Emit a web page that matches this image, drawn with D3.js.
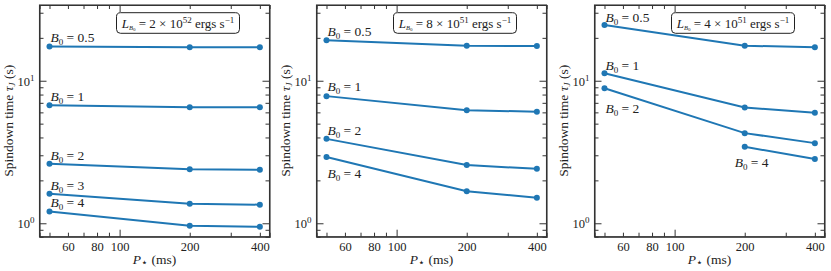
<!DOCTYPE html>
<html>
<head>
<meta charset="utf-8">
<script src="https://cdn.jsdelivr.net/npm/d3@7"></script>
<style>
    body { margin: 0; background: #fff; }
    svg { display: block; }
    text { font-family: "Liberation Serif", "DejaVu Serif", serif; fill: #222; }
</style>
</head>
<body>
<div id="chart"></div>
<script>
// periods P* (ms) at which spindown times were computed
const periods = [50, 200, 400];

// panel luminosities L_B0 (mantissa, exponent)
const lumMantissa = ["2", "8", "4"];
const lumExponent = ["52", "51", "51"];

// field strengths per panel
const fieldsA = ["0.5", "1", "2", "3", "4"];
const fieldsB = ["0.5", "1", "2", "4"];
const fieldsC = ["0.5", "1", "2", "4"];

// spindown times tau_J (s), one row per field, one column per period
const tauA = [
    [17.4, 17.2, 17.2],
    [6.74, 6.53, 6.53],
    [2.62, 2.39, 2.37],
    [1.61, 1.37, 1.35],
    [1.21, 0.96, 0.946]
];
const tauB = [
    [19.2, 17.6, 17.5],
    [7.8, 6.22, 6.06],
    [3.91, 2.56, 2.41],
    [2.92, 1.68, 1.51]
];
const tauC = [
    [24.6, 17.6, 17.2],
    [11.3, 6.5, 5.96],
    [8.85, 4.29, 3.65],
    [null, 3.44, 2.82]
];

// axis ticks
const xMinorTicks = [50, 60, 70, 80, 90, 200, 300, 400];
const xMajorTicks = [100];
const xLabelTicks = [60, 80, 100, 200, 400];
const yMajorTicks = [1, 10];
const yMinorTicks = [0.9, 2, 3, 4, 5, 6, 7, 8, 9, 20, 30];

// label placement: [index of period to anchor on, dx, dy]
const labelPosA = [[0, 1, -4], [0, 1, -4], [0, 1, -4], [0, 1, -4], [0, 1, -4]];
const labelPosB = [[0, 1, -4], [0, 1, -5], [0, 1, -4], [0, 1, 21]];
const labelPosC = [[0, 1, -3], [0, 1, -3], [0, 1, 25], [1, -10, 20]];

const panels = [
    {fields: fieldsA, tau: tauA, labels: labelPosA},
    {fields: fieldsB, tau: tauB, labels: labelPosB},
    {fields: fieldsC, tau: tauC, labels: labelPosC}
];

const width = 831, height = 271;
const plotTop = 5, plotH = 231.7, plotW = 230;
const panelLefts = [39.5, 316.5, 594.5];
const blue = "#1f77b4";

const svg = d3.select("#chart").append("svg")
    .attr("width", width)
    .attr("height", height);

const x = d3.scaleLog().domain([45.3, 440]).range([0, plotW]);
const y = d3.scaleLog().domain([0.805, 34]).range([plotH, 0]);

function bLabel(sel, val) {
    sel.append("tspan").attr("font-style", "italic").text("B");
    sel.append("tspan").attr("font-size", 9).attr("dy", 3).text("0");
    sel.append("tspan").attr("dy", -3).text(" = " + val);
}

panels.forEach(function(p, pi) {
    let g = svg.append("g")
        .attr("transform", "translate(" + panelLefts[pi] + "," + plotTop + ")");

    // x axes (ticks pointing inwards)
    let xb = g.append("g").attr("class", "x-axis")
        .attr("transform", "translate(0," + plotH + ")")
        .call(d3.axisBottom(x).tickValues(xMinorTicks.concat(xMajorTicks))
            .tickSize(-4).tickPadding(5)
            .tickFormat(d => xLabelTicks.includes(d) ? d : ""));
    xb.selectAll(".tick line").filter(d => xMajorTicks.includes(d)).attr("y2", -7);

    let xt = g.append("g").attr("class", "x-axis-top")
        .call(d3.axisTop(x).tickValues(xMinorTicks.concat(xMajorTicks))
            .tickSize(-4).tickFormat(""));
    xt.selectAll(".tick line").filter(d => xMajorTicks.includes(d)).attr("y2", 7);

    // y axes
    let yl = g.append("g").attr("class", "y-axis")
        .call(d3.axisLeft(y).tickValues(yMinorTicks.concat(yMajorTicks))
            .tickSize(-4).tickPadding(4).tickFormat(""));
    yl.selectAll(".tick line").filter(d => yMajorTicks.includes(d)).attr("x2", 7);
    yl.selectAll(".tick").filter(d => yMajorTicks.includes(d))
        .append("text")
        .attr("x", -5).attr("dy", "0.35em")
        .attr("text-anchor", "end")
        .attr("font-size", 12.5)
        .each(function(d) {
            let t = d3.select(this);
            t.append("tspan").text("10");
            t.append("tspan").attr("font-size", 9).attr("dy", -5).text(Math.round(Math.log10(d)));
        });

    let yr = g.append("g").attr("class", "y-axis-right")
        .attr("transform", "translate(" + plotW + ",0)")
        .call(d3.axisRight(y).tickValues(yMinorTicks.concat(yMajorTicks))
            .tickSize(-4).tickFormat(""));
    yr.selectAll(".tick line").filter(d => yMajorTicks.includes(d)).attr("x2", -7);

    g.selectAll(".domain").attr("stroke", "#333").attr("stroke-width", 1.1);
    g.selectAll(".tick line").attr("stroke", "#333");
    g.selectAll(".x-axis .tick text").attr("font-size", 12.5).attr("fill", "#222")
        .attr("font-family", "Liberation Serif, serif");

    // frame
    g.append("rect")
        .attr("width", plotW).attr("height", plotH)
        .attr("fill", "none").attr("stroke", "#333").attr("stroke-width", 1.1);

    // lines and markers
    let line = d3.line()
        .defined(d => d[1] != null)
        .x(d => x(d[0]))
        .y(d => y(d[1]));

    p.tau.forEach(function(row, ri) {
        let pts = periods.map((P, i) => [P, row[i]]);
        g.append("path")
            .datum(pts)
            .attr("d", line)
            .attr("fill", "none")
            .attr("stroke", blue)
            .attr("stroke-width", 2);
        g.selectAll(".dot-" + ri)
            .data(pts.filter(d => d[1] != null))
            .enter().append("circle")
            .attr("cx", d => x(d[0]))
            .attr("cy", d => y(d[1]))
            .attr("r", 3)
            .attr("fill", blue);

        let lp = p.labels[ri];
        let ax = periods[lp[0]], ay = row[lp[0]];
        g.append("text")
            .attr("x", x(ax) + lp[1])
            .attr("y", y(ay) + lp[2])
            .attr("font-size", 13.5)
            .call(bLabel, p.fields[ri]);
    });

    // luminosity box
    g.append("rect")
        .attr("x", 138.5 - 61.5).attr("y", 7.7)
        .attr("width", 123).attr("height", 20.6)
        .attr("rx", 4)
        .attr("fill", "#fff")
        .attr("stroke", "#222").attr("stroke-width", 1);
    let lt = g.append("text")
        .attr("x", 138.5).attr("y", 22.5)
        .attr("text-anchor", "middle")
        .attr("font-size", 13);
    lt.append("tspan").attr("font-style", "italic").text("L");
    lt.append("tspan").attr("font-size", 6.5).attr("font-style", "italic").attr("dy", 2.5).text("B");
    lt.append("tspan").attr("font-size", 5).attr("dy", 1).text("0");
    lt.append("tspan").attr("dy", -3.5).text(" = " + lumMantissa[pi] + " \u00d7 10");
    lt.append("tspan").attr("font-size", 9).attr("dy", -5).text(lumExponent[pi]);
    lt.append("tspan").attr("dy", 5).text(" ergs s");
    lt.append("tspan").attr("font-size", 9).attr("dy", -5).text("\u22121");

    // axis titles
    g.append("text")
        .attr("x", plotW / 2).attr("y", plotH + 27)
        .attr("text-anchor", "middle")
        .attr("font-size", 13.5)
        .call(function(t) {
            t.append("tspan").attr("font-style", "italic").text("P");
            t.append("tspan").attr("font-size", 11).attr("dy", 2.5).text("\u22c6");
            t.append("tspan").attr("dy", -2.5).text(" (ms)");
        });

    g.append("text")
        .attr("transform", "translate(" + (-26.5) + "," + (plotH / 2) + ") rotate(-90)")
        .attr("text-anchor", "middle")
        .attr("font-size", 13.5)
        .call(function(t) {
            t.append("tspan").text("Spindown time ");
            t.append("tspan").attr("font-style", "italic").text("\u03c4");
            t.append("tspan").attr("font-size", 9).attr("font-style", "italic").attr("dy", 2).text("J");
            t.append("tspan").attr("dy", -2).text(" (s)");
        });
});
</script>
</body>
</html>
